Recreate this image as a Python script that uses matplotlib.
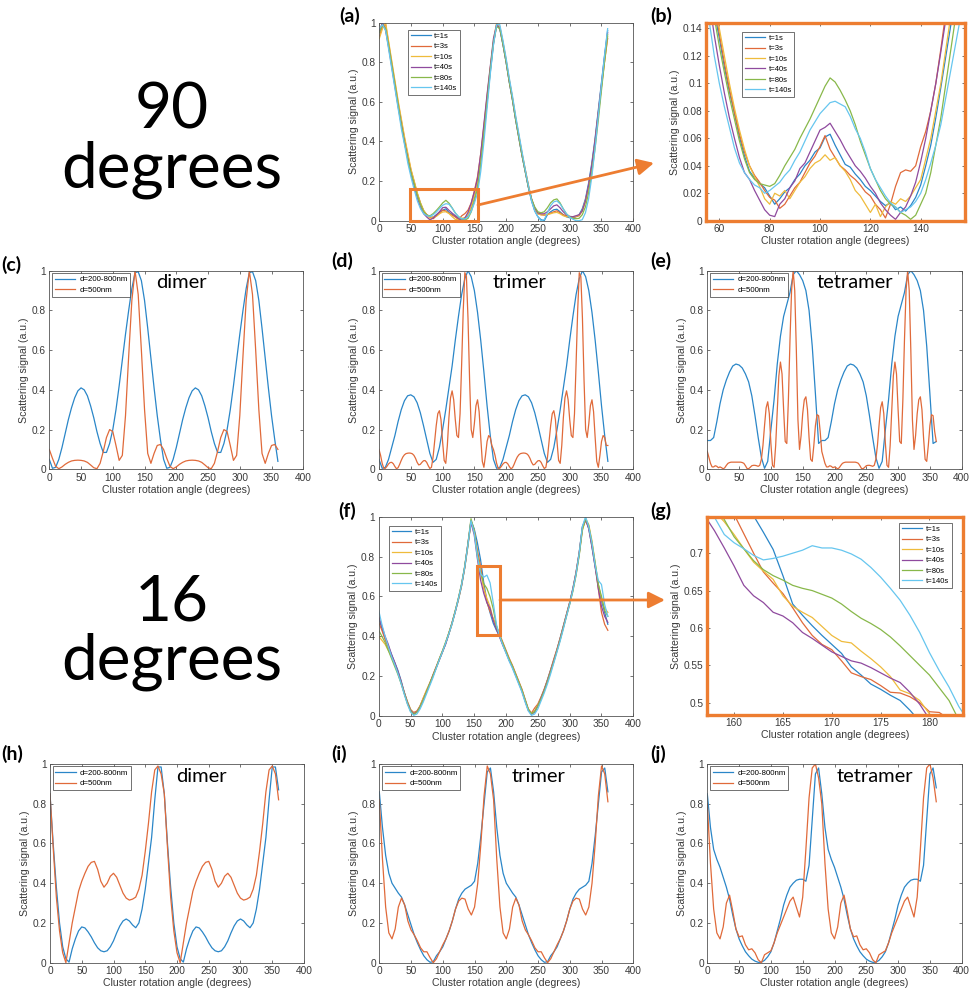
import matplotlib
matplotlib.use('Agg')
import matplotlib.pyplot as plt
from matplotlib.patches import Rectangle, FancyArrowPatch
from matplotlib.ticker import FuncFormatter

plt.rcParams['font.family'] = ['Liberation Sans', 'DejaVu Sans']

# ---------------- data ----------------
angle_5 = list(range(0, 361, 5))
angle_2p5 = [i * 2.5 for i in range(145)]
zoom_b_angle = list(range(54, 159, 2))
zoom_g_angle = list(range(157, 185))

time_labels = ['t=1s', 't=3s', 't=10s', 't=40s', 't=80s', 't=140s']
size_labels = ['d=200-800nm', 'd=500nm']

# (a) 90 degrees, measured
a_t1 = [0.95, 0.99, 0.97, 0.88, 0.78, 0.68, 0.58, 0.49, 0.4, 0.32,
        0.245, 0.19, 0.133, 0.086, 0.047, 0.029, 0.018, 0.018, 0.03, 0.042,
        0.053, 0.06, 0.041, 0.032, 0.022, 0.012, 0.008, 0.009, 0.026, 0.065,
        0.12, 0.185, 0.3, 0.45, 0.6, 0.75, 0.89, 0.99, 0.97, 0.89,
        0.8, 0.7, 0.61, 0.51, 0.42, 0.33, 0.25, 0.17, 0.1, 0.05,
        0.02, 0.005, 0.0, 0.03, 0.045, 0.055, 0.058, 0.045, 0.03, 0.02,
        0.015, 0.015, 0.02, 0.03, 0.06, 0.11, 0.19, 0.29, 0.41, 0.55,
        0.69, 0.83, 0.96]
a_t3 = [0.93, 0.98, 0.99, 0.89, 0.79, 0.69, 0.59, 0.5, 0.41, 0.33,
        0.255, 0.197, 0.136, 0.087, 0.05, 0.03, 0.017, 0.01, 0.024, 0.038,
        0.054, 0.049, 0.037, 0.028, 0.018, 0.005, 0.025, 0.036, 0.054, 0.09,
        0.152, 0.225, 0.34, 0.48, 0.63, 0.77, 0.9, 0.99, 0.98, 0.9,
        0.81, 0.71, 0.62, 0.52, 0.43, 0.34, 0.26, 0.18, 0.11, 0.06,
        0.035, 0.03, 0.028, 0.03, 0.038, 0.045, 0.05, 0.04, 0.03, 0.025,
        0.02, 0.018, 0.02, 0.025, 0.05, 0.1, 0.17, 0.27, 0.39, 0.53,
        0.67, 0.8, 0.92]
a_t10 = [0.92, 0.97, 1.0, 0.9, 0.8, 0.7, 0.6, 0.51, 0.42, 0.34,
         0.26, 0.2, 0.14, 0.09, 0.052, 0.028, 0.012, 0.02, 0.022, 0.035,
         0.044, 0.045, 0.036, 0.02, 0.006, 0.007, 0.012, 0.016, 0.03, 0.07,
         0.125, 0.195, 0.32, 0.47, 0.62, 0.77, 0.91, 1.0, 0.98, 0.9,
         0.81, 0.71, 0.62, 0.52, 0.43, 0.34, 0.26, 0.18, 0.11, 0.06,
         0.035, 0.03, 0.03, 0.032, 0.035, 0.04, 0.042, 0.035, 0.025, 0.02,
         0.02, 0.02, 0.022, 0.028, 0.05, 0.1, 0.17, 0.27, 0.39, 0.53,
         0.67, 0.8, 0.93]
a_t40 = [0.96, 1.0, 0.96, 0.87, 0.77, 0.67, 0.57, 0.48, 0.39, 0.31,
         0.235, 0.175, 0.113, 0.068, 0.035, 0.018, 0.004, 0.014, 0.029, 0.046,
         0.066, 0.068, 0.052, 0.038, 0.025, 0.01, 0.001, 0.014, 0.043, 0.09,
         0.147, 0.215, 0.34, 0.49, 0.64, 0.78, 0.92, 0.99, 0.97, 0.89,
         0.8, 0.7, 0.61, 0.51, 0.42, 0.33, 0.25, 0.17, 0.11, 0.065,
         0.04, 0.035, 0.035, 0.045, 0.06, 0.075, 0.08, 0.065, 0.045, 0.03,
         0.022, 0.02, 0.025, 0.03, 0.05, 0.1, 0.18, 0.28, 0.4, 0.54,
         0.68, 0.82, 0.95]
a_t80 = [0.95, 0.99, 0.97, 0.88, 0.78, 0.68, 0.58, 0.48, 0.39, 0.31,
         0.24, 0.186, 0.127, 0.082, 0.045, 0.028, 0.025, 0.036, 0.052, 0.07,
         0.09, 0.103, 0.088, 0.064, 0.038, 0.019, 0.01, 0.003, 0.012, 0.045,
         0.1, 0.165, 0.29, 0.44, 0.6, 0.76, 0.9, 0.98, 0.97, 0.89,
         0.8, 0.7, 0.61, 0.51, 0.42, 0.33, 0.25, 0.17, 0.11, 0.07,
         0.045, 0.04, 0.045, 0.065, 0.09, 0.105, 0.11, 0.09, 0.06, 0.035,
         0.02, 0.012, 0.01, 0.012, 0.03, 0.07, 0.14, 0.24, 0.36, 0.5,
         0.65, 0.8, 0.94]
a_t140 = [0.97, 0.99, 0.96, 0.86, 0.76, 0.66, 0.56, 0.46, 0.38, 0.29,
          0.22, 0.157, 0.1, 0.06, 0.035, 0.025, 0.022, 0.03, 0.044, 0.062,
          0.078, 0.086, 0.083, 0.063, 0.038, 0.021, 0.01, 0.009, 0.02, 0.048,
          0.09, 0.14, 0.25, 0.4, 0.57, 0.74, 0.89, 0.99, 0.99, 0.91,
          0.82, 0.72, 0.63, 0.53, 0.44, 0.35, 0.26, 0.18, 0.1, 0.05,
          0.02, 0.0, 0.005, 0.04, 0.075, 0.095, 0.1, 0.085, 0.06, 0.035,
          0.018, 0.008, 0.0, 0.0, 0.005, 0.04, 0.11, 0.22, 0.36, 0.52,
          0.68, 0.83, 0.97]

# (b) zoom of (a) around the first minimum
b_t1 = [0.205, 0.178, 0.152, 0.133, 0.112, 0.094, 0.078, 0.061, 0.047, 0.036,
        0.031, 0.027, 0.024, 0.018, 0.012, 0.016, 0.021, 0.024, 0.03, 0.034,
        0.04, 0.044, 0.05, 0.053, 0.061, 0.063, 0.055, 0.048, 0.041, 0.039,
        0.034, 0.03, 0.025, 0.022, 0.018, 0.014, 0.011, 0.013, 0.008, 0.01,
        0.007, 0.011, 0.017, 0.026, 0.04, 0.055, 0.075, 0.097, 0.12, 0.143,
        0.17, 0.2, 0.235]
b_t3 = [0.21, 0.185, 0.158, 0.136, 0.115, 0.096, 0.079, 0.063, 0.05, 0.04,
        0.033, 0.028, 0.022, 0.017, 0.015, 0.009, 0.012, 0.018, 0.024, 0.028,
        0.035, 0.042, 0.047, 0.054, 0.062, 0.052, 0.046, 0.04, 0.037, 0.033,
        0.03, 0.026, 0.021, 0.018, 0.012, 0.008, 0.002, 0.012, 0.025, 0.035,
        0.037, 0.036, 0.04, 0.054, 0.065, 0.08, 0.1, 0.125, 0.152, 0.18,
        0.21, 0.24, 0.27]
b_t10 = [0.215, 0.19, 0.165, 0.14, 0.12, 0.1, 0.082, 0.066, 0.052, 0.04,
         0.032, 0.025, 0.016, 0.012, 0.02, 0.018, 0.022, 0.016, 0.022, 0.028,
         0.032, 0.038, 0.042, 0.044, 0.048, 0.044, 0.046, 0.04, 0.036, 0.03,
         0.022, 0.018, 0.012, 0.006, 0.012, 0.003, 0.01, 0.014, 0.012, 0.016,
         0.014, 0.018, 0.024, 0.03, 0.045, 0.06, 0.08, 0.1, 0.125, 0.15,
         0.18, 0.21, 0.24]
b_t40 = [0.19, 0.16, 0.135, 0.113, 0.093, 0.075, 0.06, 0.046, 0.035, 0.03,
         0.022, 0.015, 0.008, 0.004, 0.003, 0.012, 0.016, 0.024, 0.029, 0.038,
         0.042, 0.05, 0.058, 0.066, 0.068, 0.071, 0.065, 0.059, 0.052, 0.046,
         0.04, 0.036, 0.031, 0.025, 0.02, 0.013, 0.008, 0.004, 0.001, 0.006,
         0.01, 0.018, 0.028, 0.043, 0.06, 0.08, 0.1, 0.123, 0.147, 0.175,
         0.2, 0.23, 0.26]
b_t80 = [0.2, 0.172, 0.148, 0.127, 0.108, 0.09, 0.074, 0.058, 0.045, 0.035,
         0.03, 0.027, 0.026, 0.025, 0.027, 0.033, 0.04, 0.046, 0.052, 0.06,
         0.067, 0.074, 0.082, 0.09, 0.098, 0.104, 0.101, 0.095, 0.088, 0.08,
         0.07, 0.058, 0.048, 0.038, 0.03, 0.022, 0.016, 0.012, 0.01, 0.006,
         0.004, 0.001, 0.004, 0.012, 0.02, 0.035, 0.055, 0.075, 0.1, 0.125,
         0.15, 0.18, 0.21]
b_t140 = [0.17, 0.145, 0.12, 0.1, 0.083, 0.068, 0.053, 0.042, 0.035, 0.03,
          0.026, 0.024, 0.02, 0.022, 0.025, 0.028, 0.033, 0.037, 0.044, 0.05,
          0.058, 0.066, 0.072, 0.078, 0.082, 0.086, 0.087, 0.085, 0.083, 0.076,
          0.067, 0.06, 0.05, 0.038, 0.03, 0.024, 0.018, 0.013, 0.01, 0.006,
          0.008, 0.01, 0.014, 0.02, 0.03, 0.042, 0.055, 0.07, 0.09, 0.11,
          0.13, 0.15, 0.175]

# (c) dimer, (d) trimer, (e) tetramer at 90 degrees, simulated
c_wide = [0.05, 0.005, 0.01, 0.05, 0.11, 0.18, 0.25, 0.31, 0.36, 0.395,
          0.41, 0.4, 0.37, 0.32, 0.26, 0.19, 0.13, 0.085, 0.085, 0.13,
          0.2, 0.3, 0.42, 0.55, 0.68, 0.8, 0.91, 0.99, 0.995, 0.95,
          0.85, 0.71, 0.56, 0.41, 0.27, 0.15, 0.05, 0.005, 0.01, 0.05,
          0.11, 0.18, 0.25, 0.31, 0.36, 0.395, 0.41, 0.4, 0.37, 0.32,
          0.26, 0.19, 0.13, 0.085, 0.085, 0.13, 0.2, 0.3, 0.42, 0.55,
          0.68, 0.8, 0.91, 0.99, 0.995, 0.95, 0.85, 0.71, 0.56, 0.41,
          0.27, 0.15, 0.04]
c_500 = [0.1, 0.055, 0.015, 0.003, 0.012, 0.025, 0.035, 0.042, 0.045, 0.046,
         0.045, 0.042, 0.035, 0.022, 0.008, 0.003, 0.03, 0.09, 0.16, 0.2,
         0.19, 0.12, 0.045, 0.07, 0.27, 0.57, 0.85, 1.0, 0.88, 0.6,
         0.3, 0.08, 0.03, 0.08, 0.12, 0.125, 0.1, 0.055, 0.015, 0.003,
         0.012, 0.025, 0.035, 0.042, 0.045, 0.046, 0.045, 0.042, 0.035, 0.022,
         0.008, 0.003, 0.03, 0.09, 0.16, 0.2, 0.19, 0.12, 0.045, 0.07,
         0.27, 0.57, 0.85, 1.0, 0.88, 0.6, 0.3, 0.08, 0.03, 0.08,
         0.12, 0.125, 0.1]
d_wide = [0.05, 0.005, 0.01, 0.05, 0.11, 0.17, 0.24, 0.3, 0.345, 0.37,
          0.375, 0.365, 0.335, 0.285, 0.22, 0.15, 0.08, 0.035, 0.05, 0.11,
          0.2, 0.3, 0.41, 0.52, 0.65, 0.77, 0.88, 0.96, 1.0, 0.97,
          0.9, 0.79, 0.65, 0.49, 0.32, 0.17, 0.05, 0.005, 0.01, 0.05,
          0.11, 0.17, 0.24, 0.3, 0.345, 0.37, 0.375, 0.365, 0.335, 0.285,
          0.22, 0.15, 0.08, 0.035, 0.05, 0.11, 0.2, 0.3, 0.41, 0.52,
          0.65, 0.77, 0.88, 0.96, 1.0, 0.97, 0.9, 0.79, 0.65, 0.49,
          0.32, 0.17, 0.04]
d_500 = [0.1, 0.07, 0.03, 0.005, 0.005, 0.015, 0.027, 0.034, 0.035, 0.028,
         0.014, 0.003, 0.008, 0.025, 0.045, 0.062, 0.073, 0.079, 0.081, 0.082,
         0.081, 0.078, 0.07, 0.055, 0.035, 0.022, 0.025, 0.035, 0.043, 0.044,
         0.035, 0.018, 0.004, 0.01, 0.06, 0.14, 0.22, 0.28, 0.295, 0.25,
         0.14, 0.045, 0.03, 0.12, 0.26, 0.36, 0.395, 0.35, 0.25, 0.17,
         0.16, 0.28, 0.53, 0.8, 0.99, 0.97, 0.76, 0.45, 0.2, 0.16,
         0.23, 0.32, 0.35, 0.29, 0.16, 0.04, 0.01, 0.07, 0.14, 0.17,
         0.16, 0.12,
         0.1, 0.07, 0.03, 0.005, 0.005, 0.015, 0.027, 0.034, 0.035, 0.028,
         0.014, 0.003, 0.008, 0.025, 0.045, 0.062, 0.073, 0.079, 0.081, 0.082,
         0.081, 0.078, 0.07, 0.055, 0.035, 0.022, 0.025, 0.035, 0.043, 0.044,
         0.035, 0.018, 0.004, 0.01, 0.06, 0.14, 0.22, 0.28, 0.295, 0.25,
         0.14, 0.045, 0.03, 0.12, 0.26, 0.36, 0.395, 0.35, 0.25, 0.17,
         0.16, 0.28, 0.53, 0.8, 0.99, 0.97, 0.76, 0.45, 0.2, 0.16,
         0.23, 0.32, 0.35, 0.29, 0.16, 0.04, 0.01, 0.07, 0.14, 0.17,
         0.16, 0.12, 0.12]
e_wide = [0.145, 0.145, 0.16, 0.24, 0.33, 0.4, 0.45, 0.49, 0.52, 0.53,
          0.525, 0.51, 0.48, 0.44, 0.37, 0.27, 0.16, 0.06, 0.005, 0.04,
          0.2, 0.35, 0.53, 0.67, 0.77, 0.83, 0.89, 0.98, 1.0, 0.98,
          0.95, 0.9, 0.8, 0.62, 0.38, 0.13, 0.145, 0.145, 0.16, 0.24,
          0.33, 0.4, 0.45, 0.49, 0.52, 0.53, 0.525, 0.51, 0.48, 0.44,
          0.37, 0.27, 0.16, 0.06, 0.005, 0.04, 0.2, 0.35, 0.53, 0.67,
          0.77, 0.83, 0.89, 0.98, 1.0, 0.98, 0.95, 0.9, 0.8, 0.62,
          0.38, 0.13, 0.14]
e_500 = [0.09, 0.06, 0.03, 0.012, 0.012, 0.018, 0.015, 0.008, 0.012, 0.008,
         0.002, 0.008, 0.02, 0.03, 0.034, 0.036, 0.036, 0.036, 0.036, 0.036,
         0.036, 0.036, 0.034, 0.03, 0.018, 0.004, 0.003, 0.01, 0.018, 0.02,
         0.02, 0.018, 0.015, 0.02, 0.05, 0.12, 0.22, 0.31, 0.34, 0.28,
         0.13, 0.02, 0.01, 0.12, 0.3, 0.47, 0.54, 0.48, 0.3, 0.14,
         0.13, 0.35, 0.65, 0.9, 1.0, 0.9, 0.6, 0.25, 0.1, 0.17,
         0.28, 0.35, 0.365, 0.3, 0.16, 0.05, 0.04, 0.12, 0.22, 0.275,
         0.27, 0.19,
         0.09, 0.06, 0.03, 0.012, 0.012, 0.018, 0.015, 0.008, 0.012, 0.008,
         0.002, 0.008, 0.02, 0.03, 0.034, 0.036, 0.036, 0.036, 0.036, 0.036,
         0.036, 0.036, 0.034, 0.03, 0.018, 0.004, 0.003, 0.01, 0.018, 0.02,
         0.02, 0.018, 0.015, 0.02, 0.05, 0.12, 0.22, 0.31, 0.34, 0.28,
         0.13, 0.02, 0.01, 0.12, 0.3, 0.47, 0.54, 0.48, 0.3, 0.14,
         0.13, 0.35, 0.65, 0.9, 1.0, 0.9, 0.6, 0.25, 0.1, 0.17,
         0.28, 0.35, 0.365, 0.3, 0.16, 0.05, 0.04, 0.12, 0.22, 0.275,
         0.27, 0.19, 0.14]

# (f) 16 degrees, measured
f_t1 = [0.49, 0.44, 0.39, 0.35, 0.31, 0.27, 0.23, 0.18, 0.12, 0.07,
        0.03, 0.01, 0.02, 0.05, 0.085, 0.12, 0.16, 0.2, 0.24, 0.28,
        0.32, 0.36, 0.41, 0.46, 0.52, 0.58, 0.65, 0.74, 0.85, 0.98,
        0.94, 0.87, 0.785, 0.67, 0.578, 0.518, 0.465, 0.43, 0.4, 0.36,
        0.32, 0.28, 0.25, 0.21, 0.17, 0.13, 0.08, 0.03, 0.01, 0.02,
        0.05, 0.09, 0.13, 0.18, 0.23, 0.28, 0.33, 0.39, 0.45, 0.51,
        0.57, 0.64, 0.72, 0.82, 0.95, 0.99, 0.94, 0.85, 0.75, 0.66,
        0.58, 0.52, 0.46]
f_t3 = [0.47, 0.43, 0.385, 0.345, 0.3, 0.265, 0.22, 0.17, 0.115, 0.065,
        0.03, 0.018, 0.025, 0.05, 0.09, 0.125, 0.16, 0.205, 0.245, 0.285,
        0.325, 0.365, 0.415, 0.465, 0.525, 0.585, 0.655, 0.745, 0.86, 0.98,
        0.93, 0.83, 0.752, 0.646, 0.571, 0.523, 0.488, 0.45, 0.41, 0.37,
        0.33, 0.29, 0.255, 0.215, 0.175, 0.135, 0.085, 0.035, 0.015, 0.04,
        0.06, 0.095, 0.135, 0.18, 0.23, 0.285, 0.335, 0.39, 0.45, 0.51,
        0.57, 0.635, 0.72, 0.82, 0.94, 0.98, 0.95, 0.86, 0.76, 0.64,
        0.52, 0.46, 0.43]
f_t10 = [0.4, 0.38, 0.36, 0.33, 0.3, 0.26, 0.22, 0.17, 0.12, 0.075,
         0.035, 0.015, 0.02, 0.05, 0.09, 0.13, 0.165, 0.2, 0.24, 0.28,
         0.32, 0.365, 0.41, 0.46, 0.52, 0.58, 0.65, 0.74, 0.85, 0.97,
         0.93, 0.81, 0.725, 0.643, 0.59, 0.548, 0.485, 0.445, 0.4, 0.36,
         0.32, 0.285, 0.25, 0.21, 0.17, 0.13, 0.08, 0.03, 0.012, 0.025,
         0.055, 0.09, 0.13, 0.175, 0.225, 0.275, 0.33, 0.385, 0.445, 0.505,
         0.565, 0.63, 0.71, 0.81, 0.93, 0.99, 0.96, 0.88, 0.77, 0.66,
         0.59, 0.54, 0.52]
f_t40 = [0.5, 0.45, 0.4, 0.36, 0.31, 0.27, 0.225, 0.175, 0.12, 0.07,
         0.03, 0.012, 0.02, 0.045, 0.08, 0.12, 0.16, 0.2, 0.24, 0.28,
         0.32, 0.36, 0.41, 0.465, 0.52, 0.585, 0.655, 0.745, 0.86, 0.97,
         0.91, 0.79, 0.683, 0.616, 0.568, 0.54, 0.478, 0.435, 0.395, 0.355,
         0.32, 0.28, 0.245, 0.205, 0.165, 0.125, 0.075, 0.03, 0.01, 0.02,
         0.05, 0.09, 0.13, 0.175, 0.225, 0.275, 0.33, 0.385, 0.445, 0.505,
         0.565, 0.635, 0.715, 0.815, 0.945, 0.985, 0.94, 0.85, 0.75, 0.64,
         0.55, 0.5, 0.47]
f_t80 = [0.43, 0.4, 0.37, 0.33, 0.29, 0.25, 0.21, 0.165, 0.115, 0.065,
         0.025, 0.008, 0.018, 0.045, 0.08, 0.12, 0.16, 0.2, 0.24, 0.285,
         0.325, 0.37, 0.415, 0.465, 0.525, 0.59, 0.66, 0.75, 0.86, 0.99,
         0.93, 0.81, 0.722, 0.664, 0.64, 0.598, 0.537, 0.45, 0.405, 0.365,
         0.325, 0.285, 0.25, 0.21, 0.17, 0.13, 0.08, 0.035, 0.012, 0.022,
         0.05, 0.085, 0.125, 0.17, 0.22, 0.27, 0.325, 0.38, 0.44, 0.5,
         0.56, 0.625, 0.705, 0.805, 0.935, 0.99, 0.955, 0.87, 0.77, 0.66,
         0.6, 0.53, 0.5]
f_t140 = [0.53, 0.46, 0.4, 0.35, 0.3, 0.26, 0.215, 0.165, 0.11, 0.06,
          0.02, 0.003, 0.01, 0.035, 0.07, 0.11, 0.15, 0.19, 0.235, 0.28,
          0.32, 0.365, 0.41, 0.46, 0.52, 0.585, 0.655, 0.745, 0.855, 0.98,
          0.92, 0.8, 0.714, 0.696, 0.707, 0.668, 0.567, 0.46, 0.4, 0.355,
          0.315, 0.275, 0.24, 0.2, 0.16, 0.12, 0.07, 0.025, 0.003, 0.01,
          0.035, 0.075, 0.115, 0.16, 0.21, 0.265, 0.32, 0.375, 0.435, 0.5,
          0.56, 0.63, 0.71, 0.815, 0.95, 1.0, 0.95, 0.87, 0.76, 0.68,
          0.66, 0.56, 0.5]

# (g) zoom of (f) on the falling flank
g_t1 = [0.84, 0.82, 0.8, 0.785, 0.77, 0.75, 0.728, 0.705, 0.67, 0.632,
        0.617, 0.603, 0.59, 0.578, 0.566, 0.548, 0.537, 0.525, 0.518, 0.51,
        0.503, 0.49, 0.475, 0.465, 0.455, 0.445, 0.435, 0.425]
g_t3 = [0.8, 0.785, 0.77, 0.752, 0.726, 0.7, 0.675, 0.66, 0.646, 0.627,
        0.607, 0.59, 0.578, 0.571, 0.556, 0.54, 0.535, 0.531, 0.523, 0.514,
        0.513, 0.508, 0.5, 0.488, 0.487, 0.478, 0.468, 0.46]
g_t10 = [0.77, 0.756, 0.742, 0.725, 0.706, 0.688, 0.676, 0.665, 0.643, 0.629,
         0.621, 0.614, 0.602, 0.59, 0.582, 0.58, 0.569, 0.559, 0.548, 0.535,
         0.517, 0.512, 0.503, 0.485, 0.475, 0.465, 0.455, 0.445]
g_t40 = [0.75, 0.73, 0.707, 0.683, 0.657, 0.643, 0.634, 0.621, 0.616, 0.607,
         0.594, 0.586, 0.577, 0.568, 0.562, 0.556, 0.553, 0.547, 0.54, 0.533,
         0.527, 0.514, 0.498, 0.478, 0.468, 0.458, 0.448, 0.438]
g_t80 = [0.775, 0.76, 0.745, 0.722, 0.706, 0.69, 0.678, 0.67, 0.664, 0.657,
         0.653, 0.65, 0.645, 0.64, 0.632, 0.622, 0.613, 0.606, 0.598, 0.588,
         0.576, 0.563, 0.55, 0.537, 0.52, 0.503, 0.477, 0.46]
g_t140 = [0.76, 0.748, 0.725, 0.714, 0.706, 0.697, 0.691, 0.693, 0.696, 0.7,
          0.704, 0.71, 0.707, 0.707, 0.704, 0.699, 0.692, 0.681, 0.668, 0.653,
          0.637, 0.617, 0.594, 0.567, 0.543, 0.521, 0.495, 0.475]

# (h) dimer, (i) trimer, (j) tetramer at 16 degrees, simulated
h_wide = [0.85, 0.6, 0.38, 0.2, 0.08, 0.02, 0.003, 0.07, 0.12, 0.16,
          0.18, 0.175, 0.155, 0.13, 0.1, 0.075, 0.06, 0.055, 0.06, 0.08,
          0.11, 0.15, 0.185, 0.21, 0.22, 0.21, 0.19, 0.176, 0.2, 0.27,
          0.37, 0.5, 0.63, 0.82, 0.985, 0.985, 0.85, 0.6, 0.38, 0.2,
          0.08, 0.02, 0.003, 0.07, 0.12, 0.16, 0.18, 0.175, 0.155, 0.13,
          0.1, 0.075, 0.06, 0.055, 0.06, 0.08, 0.11, 0.15, 0.185, 0.21,
          0.22, 0.21, 0.19, 0.176, 0.2, 0.27, 0.37, 0.5, 0.63, 0.82,
          0.985, 0.985, 0.87]
h_500 = [0.85, 0.58, 0.33, 0.16, 0.05, 0.0, 0.1, 0.2, 0.28, 0.36,
         0.41, 0.45, 0.485, 0.505, 0.51, 0.47, 0.41, 0.38, 0.4, 0.435,
         0.45, 0.43, 0.39, 0.35, 0.325, 0.315, 0.32, 0.33, 0.37, 0.44,
         0.56, 0.7, 0.86, 0.97, 0.99, 0.95, 0.85, 0.58, 0.33, 0.16,
         0.05, 0.0, 0.1, 0.2, 0.28, 0.36, 0.41, 0.45, 0.485, 0.505,
         0.51, 0.47, 0.41, 0.38, 0.4, 0.435, 0.45, 0.43, 0.39, 0.35,
         0.325, 0.315, 0.32, 0.33, 0.37, 0.44, 0.56, 0.7, 0.86, 0.97,
         0.99, 0.95, 0.82]
i_wide = [0.86, 0.68, 0.54, 0.45, 0.4, 0.375, 0.35, 0.33, 0.29, 0.24,
          0.19, 0.14, 0.1, 0.065, 0.035, 0.015, 0.002, 0.005, 0.035, 0.055,
          0.08, 0.12, 0.16, 0.21, 0.27, 0.32, 0.35, 0.37, 0.38, 0.39,
          0.41, 0.5, 0.64, 0.8, 0.96, 0.98, 0.86, 0.68, 0.54, 0.45,
          0.4, 0.375, 0.35, 0.33, 0.29, 0.24, 0.19, 0.14, 0.1, 0.065,
          0.035, 0.015, 0.002, 0.005, 0.035, 0.055, 0.08, 0.12, 0.16, 0.21,
          0.27, 0.32, 0.35, 0.37, 0.38, 0.39, 0.41, 0.5, 0.64, 0.8,
          0.96, 0.98, 0.86]
i_500 = [0.82, 0.52, 0.28, 0.15, 0.12, 0.17, 0.28, 0.325, 0.29, 0.21,
         0.165, 0.14, 0.11, 0.075, 0.055, 0.055, 0.025, 0.0, 0.02, 0.055,
         0.09, 0.12, 0.16, 0.21, 0.27, 0.31, 0.325, 0.32, 0.27, 0.24,
         0.28, 0.4, 0.6, 0.84, 0.99, 0.95, 0.82, 0.52, 0.28, 0.15,
         0.12, 0.17, 0.28, 0.325, 0.29, 0.21, 0.165, 0.14, 0.11, 0.075,
         0.055, 0.055, 0.025, 0.0, 0.02, 0.055, 0.09, 0.12, 0.16, 0.21,
         0.27, 0.31, 0.325, 0.32, 0.27, 0.24, 0.28, 0.4, 0.6, 0.84,
         0.99, 0.95, 0.81]
j_wide = [0.85, 0.68, 0.57, 0.52, 0.48, 0.43, 0.38, 0.32, 0.24, 0.17,
          0.12, 0.085, 0.055, 0.035, 0.018, 0.008, 0.002, 0.002, 0.012, 0.03,
          0.055, 0.1, 0.16, 0.22, 0.29, 0.34, 0.38, 0.4, 0.415, 0.42,
          0.42, 0.41, 0.49, 0.72, 0.95, 0.98, 0.85, 0.68, 0.57, 0.52,
          0.48, 0.43, 0.38, 0.32, 0.24, 0.17, 0.12, 0.085, 0.055, 0.035,
          0.018, 0.008, 0.002, 0.002, 0.012, 0.03, 0.055, 0.1, 0.16, 0.22,
          0.29, 0.34, 0.38, 0.4, 0.415, 0.42, 0.42, 0.41, 0.49, 0.72,
          0.95, 0.98, 0.88]
j_500 = [0.8, 0.5, 0.27, 0.15, 0.12, 0.18, 0.3, 0.34, 0.26, 0.17,
         0.13, 0.135, 0.09, 0.065, 0.07, 0.05, 0.015, 0.0, 0.04, 0.05,
         0.06, 0.1, 0.15, 0.19, 0.23, 0.27, 0.31, 0.33, 0.28, 0.23,
         0.33, 0.57, 0.83, 0.98, 1.0, 0.93, 0.8, 0.5, 0.27, 0.15,
         0.12, 0.18, 0.3, 0.34, 0.26, 0.17, 0.13, 0.135, 0.09, 0.065,
         0.07, 0.05, 0.015, 0.0, 0.04, 0.05, 0.06, 0.1, 0.15, 0.19,
         0.23, 0.27, 0.31, 0.33, 0.28, 0.23, 0.33, 0.57, 0.83, 0.98,
         1.0, 0.93, 0.81]

# ---------------- styling ----------------
# MATLAB default order, softened a little like the scanned figure
COLORS = ['#2a86c8', '#e06a3a', '#efbb3c', '#8f4a9e', '#88b84a', '#66c6ef']
ORANGE = '#ED7D31'
GRAY = '#3a3a3a'
W, H = 974, 993
CALIBRI_LIKE = ['Lato', 'DejaVu Sans']


def px_box(left, top, right, bottom):
    return [left / W, 1 - bottom / H, (right - left) / W, (bottom - top) / H]


def style_axes(ax, xlim, ylim, xticks, yticks):
    ax.set_xlim(xlim)
    ax.set_ylim(ylim)
    ax.set_xticks(xticks)
    ax.set_yticks(yticks)
    fmt = FuncFormatter(lambda v, p: f'{v:g}')
    ax.xaxis.set_major_formatter(fmt)
    ax.yaxis.set_major_formatter(fmt)
    ax.tick_params(direction='in', length=2.5, width=0.5, labelsize=7.3,
                   colors=GRAY, top=True, right=True, pad=2.5)
    for sp in ax.spines.values():
        sp.set_color('#555555')
        sp.set_linewidth(0.6)
    ax.set_xlabel('Cluster rotation angle (degrees)', fontsize=7.6, color=GRAY, labelpad=1.5)
    ax.set_ylabel('Scattering signal (a.u.)', fontsize=7.6, color=GRAY, labelpad=2)


def add_legend(ax, loc, anchor, fs=5.5):
    leg = ax.legend(loc=loc, bbox_to_anchor=anchor, fontsize=fs, frameon=True,
                    fancybox=False, edgecolor=GRAY, framealpha=1,
                    handlelength=2.6, handletextpad=0.5, borderpad=0.35,
                    labelspacing=0.4, borderaxespad=0)
    leg.get_frame().set_linewidth(0.5)
    return leg


fig = plt.figure(figsize=(9.74, 9.93), dpi=100)

main_ticks_x = [0, 50, 100, 150, 200, 250, 300, 350, 400]
main_ticks_y = [0, 0.2, 0.4, 0.6, 0.8, 1]

# (a)
ax = fig.add_axes(px_box(379.3, 22.7, 633, 220.7))
for ys, c, lab in zip([a_t1, a_t3, a_t10, a_t40, a_t80, a_t140], COLORS, time_labels):
    ax.plot(angle_5, ys, color=c, lw=0.9, label=lab)
style_axes(ax, (0, 400), (0, 1), main_ticks_x, main_ticks_y)
add_legend(ax, 'upper left', (0.113, 0.963))
ax.add_patch(Rectangle((49, 0), 106, 0.16, fill=False, ec=ORANGE, lw=2.2,
                       clip_on=False, zorder=6))

# (b)
ax = fig.add_axes(px_box(706, 23, 965, 220.7))
for ys, c, lab in zip([b_t1, b_t3, b_t10, b_t40, b_t80, b_t140], COLORS, time_labels):
    ax.plot(zoom_b_angle, ys, color=c, lw=0.9, label=lab)
style_axes(ax, (54.7, 157.6), (0, 0.144), [60, 80, 100, 120, 140],
           [0, 0.02, 0.04, 0.06, 0.08, 0.1, 0.12, 0.14])
for sp in ax.spines.values():
    sp.set_color(ORANGE)
    sp.set_linewidth(2.4)
add_legend(ax, 'upper left', (0.139, 0.955))

# (c) (d) (e)
top_row = [(px_box(49.3, 270.7, 303.3, 469.3), c_wide, c_500),
           (px_box(379, 270.7, 633.3, 469.3), d_wide, d_500),
           (px_box(707.3, 270.7, 961.7, 469.3), e_wide, e_500)]
for box, wide, narrow in top_row:
    ax = fig.add_axes(box)
    ax.plot(angle_5, wide, color=COLORS[0], lw=0.9, label=size_labels[0])
    x_narrow = angle_5 if len(narrow) == len(angle_5) else angle_2p5
    ax.plot(x_narrow, narrow, color=COLORS[1], lw=0.9, label=size_labels[1])
    style_axes(ax, (0, 400), (0, 1), main_ticks_x, main_ticks_y)
    add_legend(ax, 'upper left', (0.01, 0.988), fs=5.7)

# (f)
ax = fig.add_axes(px_box(378.7, 516.7, 633.3, 716))
for ys, c, lab in zip([f_t1, f_t3, f_t10, f_t40, f_t80, f_t140], COLORS, time_labels):
    ax.plot(angle_5, ys, color=c, lw=0.9, label=lab)
style_axes(ax, (0, 400), (0, 1), main_ticks_x, main_ticks_y)
add_legend(ax, 'upper left', (0.04, 0.953))
ax.add_patch(Rectangle((154, 0.405), 36, 0.35, fill=False, ec=ORANGE, lw=2.2,
                       clip_on=False, zorder=6))

# (g)
ax = fig.add_axes(px_box(706.7, 517.3, 962.7, 714.7))
for ys, c, lab in zip([g_t1, g_t3, g_t10, g_t40, g_t80, g_t140], COLORS, time_labels):
    ax.plot(zoom_g_angle, ys, color=c, lw=0.9, label=lab)
style_axes(ax, (157.2, 183.4), (0.484, 0.748), [160, 165, 170, 175, 180],
           [0.5, 0.55, 0.6, 0.65, 0.7])
for sp in ax.spines.values():
    sp.set_color(ORANGE)
    sp.set_linewidth(2.4)
add_legend(ax, 'upper right', (0.957, 0.971))

# (h) (i) (j)
bottom_row = [(px_box(50, 764, 304, 962.7), h_wide, h_500),
              (px_box(379.3, 764, 633.3, 962.7), i_wide, i_500),
              (px_box(707.3, 764, 961.7, 962.7), j_wide, j_500)]
for box, wide, narrow in bottom_row:
    ax = fig.add_axes(box)
    ax.plot(angle_5, wide, color=COLORS[0], lw=0.9, label=size_labels[0])
    ax.plot(angle_5, narrow, color=COLORS[1], lw=0.9, label=size_labels[1])
    style_axes(ax, (0, 400), (0, 1), main_ticks_x, main_ticks_y)
    add_legend(ax, 'upper left', (0.01, 0.988), fs=5.7)

# arrows from the boxed regions to the zooms
fig.add_artist(FancyArrowPatch((478 / W, 1 - 205 / H), (654 / W, 1 - 163 / H),
                               transform=fig.transFigure, color=ORANGE, lw=2,
                               arrowstyle='-|>,head_length=0.7,head_width=0.35',
                               mutation_scale=14, shrinkA=0, shrinkB=0))
fig.add_artist(FancyArrowPatch((500 / W, 1 - 600 / H), (665 / W, 1 - 600 / H),
                               transform=fig.transFigure, color=ORANGE, lw=2,
                               arrowstyle='-|>,head_length=0.7,head_width=0.35',
                               mutation_scale=14, shrinkA=0, shrinkB=0))

# panel letters
panel_letters = [('(a)', 339, 16), ('(b)', 650, 16), ('(c)', 1, 265), ('(d)', 331, 261),
                 ('(e)', 650, 261), ('(f)', 338, 511), ('(g)', 650, 511),
                 ('(h)', 1, 754), ('(i)', 331, 754), ('(j)', 650, 754)]
for txt, x, y in panel_letters:
    fig.text(x / W, 1 - y / H, txt, ha='left', va='center', fontsize=14,
             fontweight='bold', family=CALIBRI_LIKE)

# cluster names
cluster_names = [('dimer', 181, 283), ('trimer', 520, 283), ('tetramer', 855, 283),
                 ('dimer', 201, 777), ('trimer', 539, 777), ('tetramer', 875, 777)]
for txt, x, y in cluster_names:
    fig.text(x / W, 1 - y / H, txt, ha='center', va='center', fontsize=14.5,
             family=CALIBRI_LIKE)

# big angle captions
fig.text(172 / W, 1 - 140 / H, '90\ndegrees', ha='center', va='center', fontsize=46,
         family=CALIBRI_LIKE, linespacing=1.02)
fig.text(172 / W, 1 - 632 / H, '16\ndegrees', ha='center', va='center', fontsize=46,
         family=CALIBRI_LIKE, linespacing=1.02)

fig.savefig('out.png', dpi=100, facecolor='white')
